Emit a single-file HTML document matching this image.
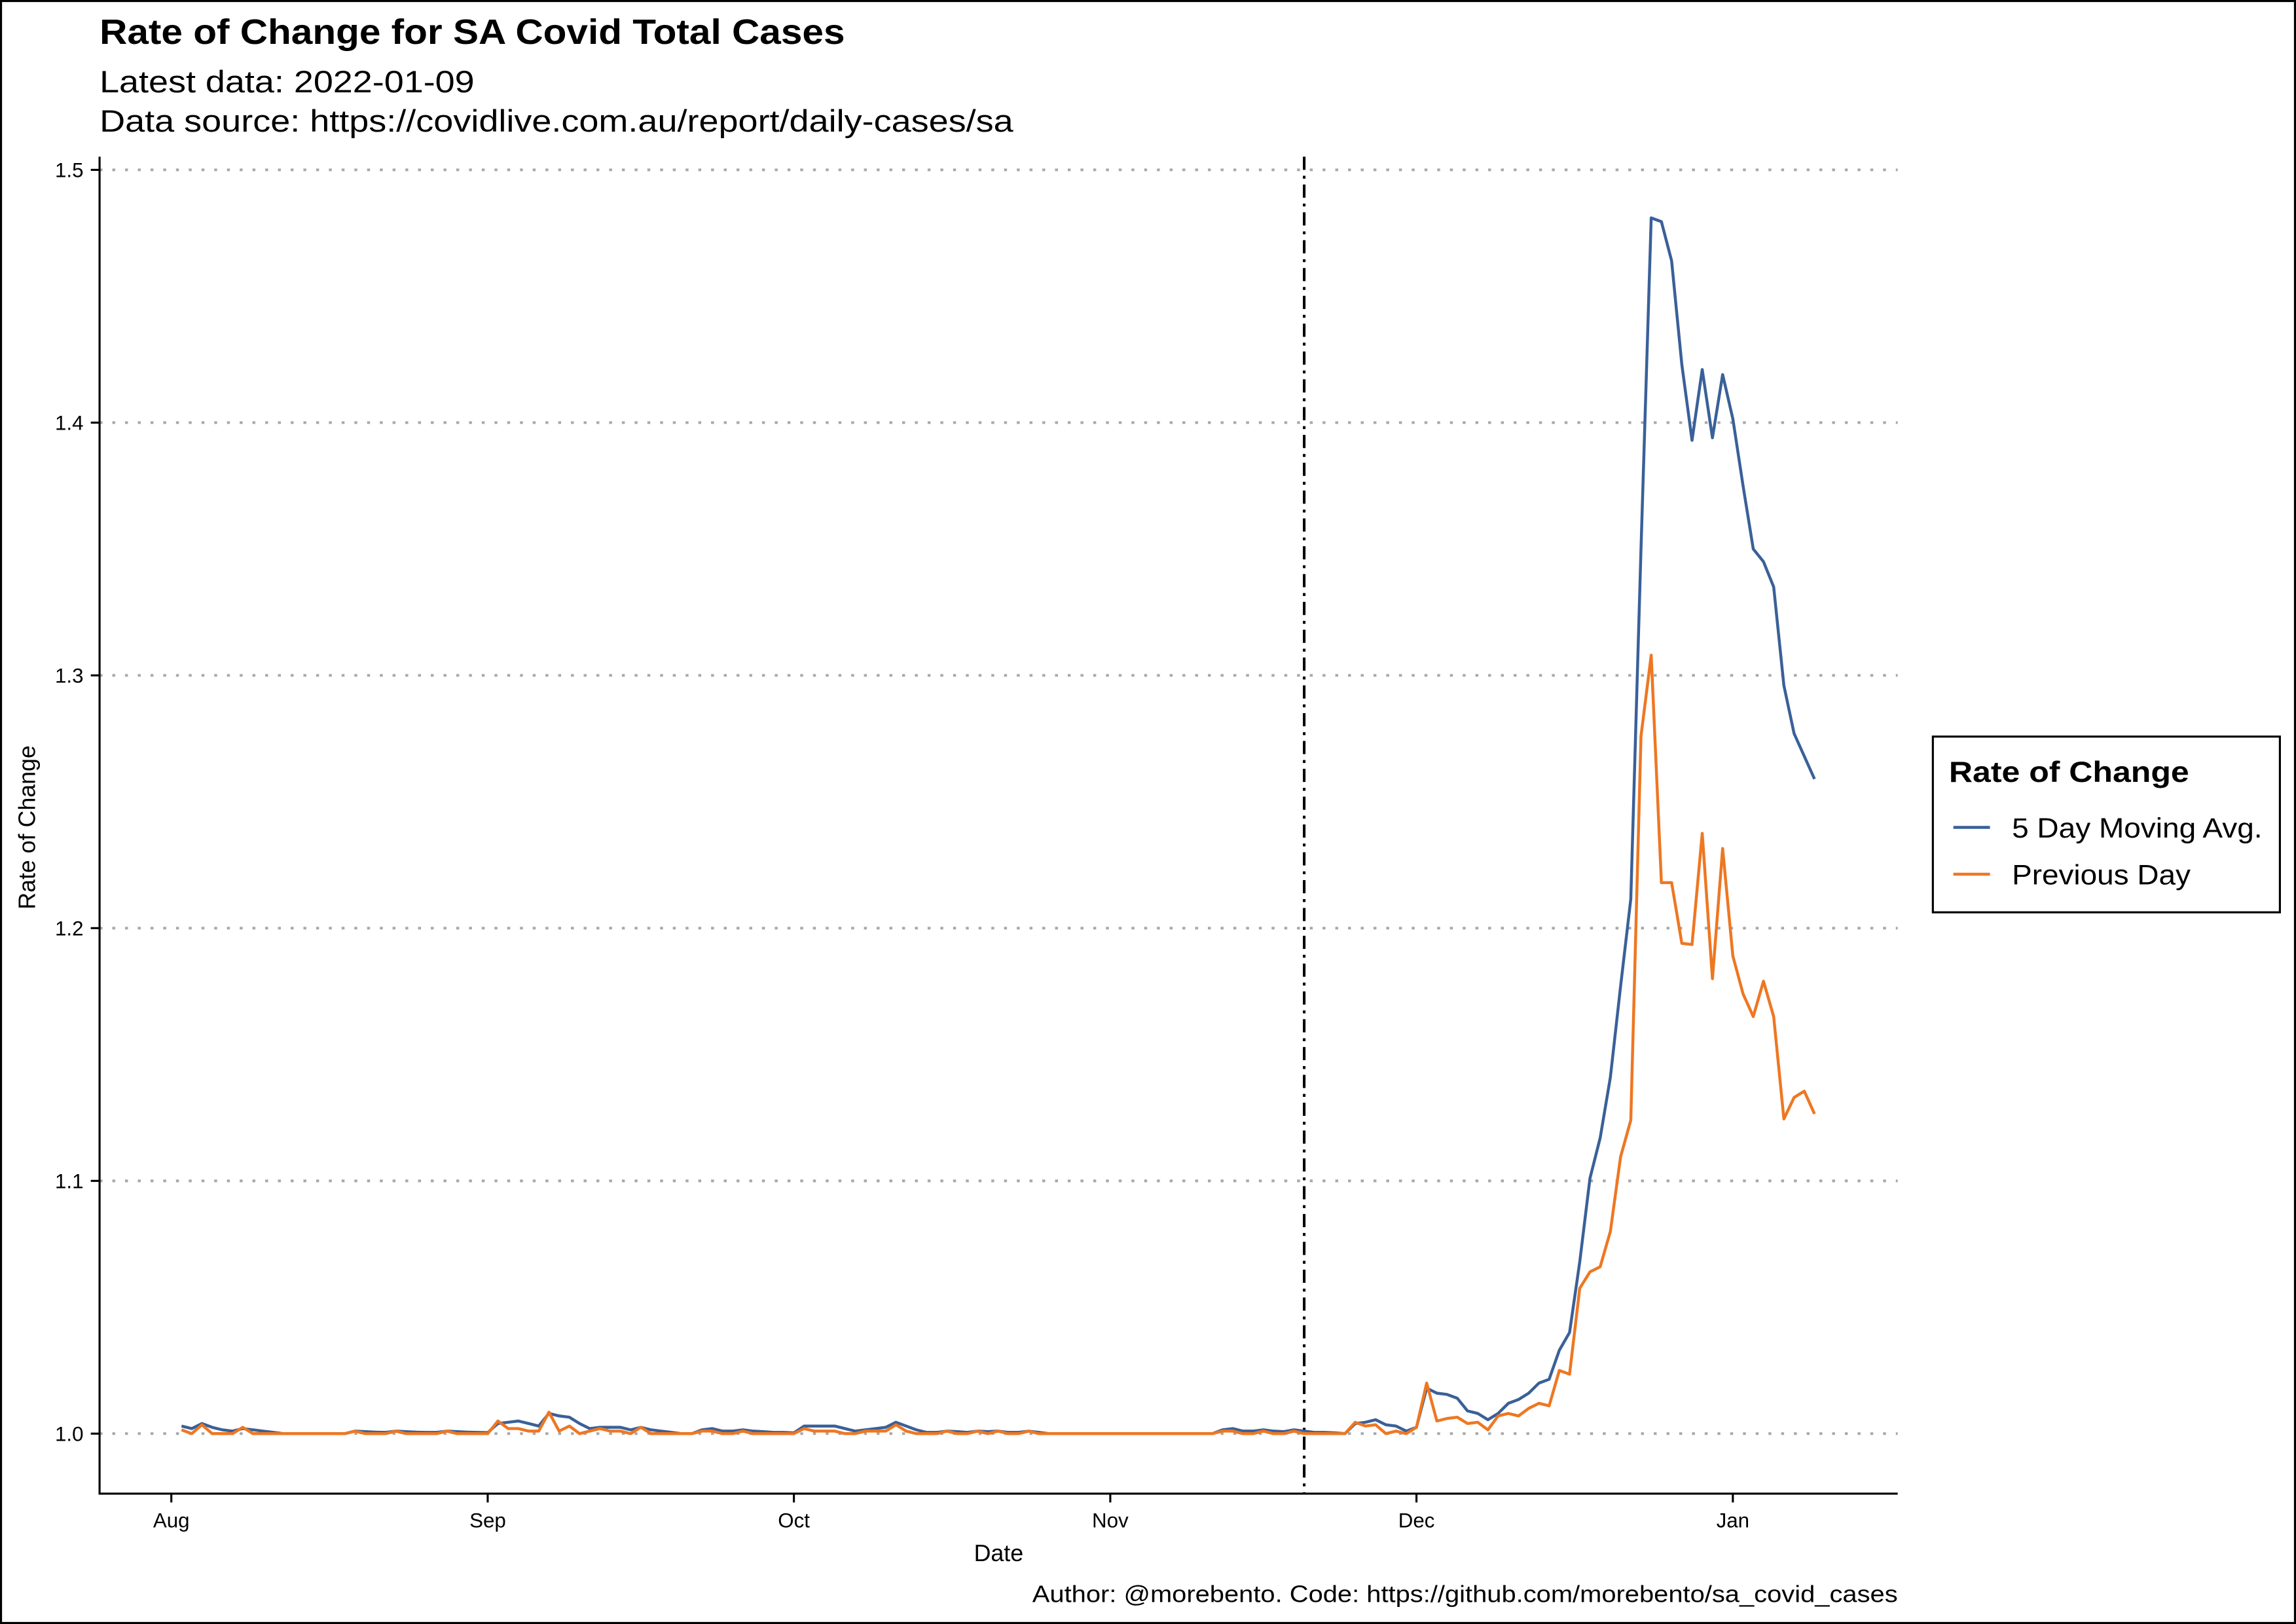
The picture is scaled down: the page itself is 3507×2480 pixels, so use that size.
<!DOCTYPE html>
<html><head><meta charset="utf-8"><style>
html,body{margin:0;padding:0;background:#fff}
svg{display:block;font-family:"Liberation Sans",Arial,sans-serif}
</style></head><body>
<svg id="chart" width="3507" height="2480" viewBox="0 0 1568 1109" preserveAspectRatio="none" xmlns="http://www.w3.org/2000/svg">
<rect x="0.7" y="0.7" width="1566.6" height="1107.6" fill="#fff" stroke="#000" stroke-width="1.4"/>
<text x="68" y="30" font-size="24" font-weight="bold" textLength="509" lengthAdjust="spacingAndGlyphs">Rate of Change for SA Covid Total Cases</text>
<text x="68" y="63" font-size="21" textLength="256" lengthAdjust="spacingAndGlyphs">Latest data: 2022-01-09</text>
<text x="68" y="90" font-size="21" textLength="624" lengthAdjust="spacingAndGlyphs">Data source: https://covidlive.com.au/report/daily-cases/sa</text>
<g id="grid"></g>
<g id="yaxis"></g>
<g id="xaxis"></g>
<g id="series"></g>
<line x1="68" y1="107" x2="68" y2="1020.5" stroke="#000" stroke-width="1.4"/>
<line x1="67.3" y1="1020" x2="1296" y2="1020" stroke="#000" stroke-width="1.4"/>
<text x="682" y="1066" font-size="16" text-anchor="middle">Date</text>
<text transform="translate(24,565) rotate(-90)" font-size="16" text-anchor="middle">Rate of Change</text>
<text x="705" y="1094" font-size="16" textLength="591" lengthAdjust="spacingAndGlyphs">Author: @morebento. Code: https://github.com/morebento/sa_covid_cases</text>
<g>
<rect x="1320" y="503" width="237" height="120" fill="#fff" stroke="#000" stroke-width="1.4"/>
<text x="1331" y="534" font-size="20" font-weight="bold" textLength="164" lengthAdjust="spacingAndGlyphs">Rate of Change</text>
<line x1="1334" y1="565" x2="1359" y2="565" stroke="#3A6098" stroke-width="2"/>
<text x="1374" y="572" font-size="19" textLength="171" lengthAdjust="spacingAndGlyphs">5 Day Moving Avg.</text>
<line x1="1334" y1="597" x2="1359" y2="597" stroke="#EE7722" stroke-width="2"/>
<text x="1374" y="604" font-size="19" textLength="122" lengthAdjust="spacingAndGlyphs">Previous Day</text>
</g>
</svg>
<script>
// day index 1 = 2021-08-02 ... 161 = 2022-01-09
const startDay = 1;
const yTicks = [1.0, 1.1, 1.2, 1.3, 1.4, 1.5];
const yTickLabels = ["1.0", "1.1", "1.2", "1.3", "1.4", "1.5"];
const xTickDays = [0, 31, 61, 92, 122, 153];
const xTickLabels = ["Aug", "Sep", "Oct", "Nov", "Dec", "Jan"];
const markerDay = 111;
const prevDay = [
1.0015,1.0,1.0035,1.0,1.0,1.0,1.0025,1.0,1.0,1.0,
1.0,1.0,1.0,1.0,1.0,1.0,1.0,1.001,1.0,1.0,
1.0,1.001,1.0,1.0,1.0,1.0,1.001,1.0,1.0,1.0,
1.0,1.005,1.002,1.002,1.001,1.001,1.0085,1.001,1.003,1.0,
1.001,1.002,1.001,1.001,1.0,1.0025,1.0,1.0,1.0,1.0,
1.0,1.001,1.001,1.0,1.0,1.001,1.0,1.0,1.0,1.0,
1.0,1.002,1.001,1.001,1.001,1.0,1.0,1.001,1.001,1.001,
1.0035,1.001,1.0,1.0,1.0,1.001,1.0,1.0,1.001,1.0,
1.001,1.0,1.0,1.001,1.0,1.0,1.0,1.0,1.0,1.0,
1.0,1.0,1.0,1.0,1.0,1.0,1.0,1.0,1.0,1.0,
1.0,1.0,1.001,1.001,1.0,1.0,1.001,1.0,1.0,1.001,
1.0,1.0,1.0,1.0,1.0,1.0045,1.003,1.0035,1.0,1.001,
1.0,1.0025,1.020,1.005,1.006,1.0065,1.004,1.0045,1.0015,1.007,
1.008,1.007,1.010,1.012,1.011,1.025,1.0235,1.0575,1.064,1.066,
1.080,1.1095,1.124,1.276,1.308,1.218,1.218,1.194,1.1935,1.2375,
1.180,1.2315,1.189,1.174,1.165,1.179,1.165,1.1245,1.133,1.1355,
1.1265];
const movingAvg = [
1.003,1.002,1.004,1.0025,1.0015,1.001,1.002,1.0015,1.001,1.0005,
1.0,1.0,1.0,1.0,1.0,1.0,1.0,1.001,1.0008,1.0006,
1.0005,1.001,1.0008,1.0006,1.0005,1.0005,1.001,1.0008,1.0006,1.0005,
1.0004,1.004,1.0045,1.005,1.004,1.003,1.008,1.007,1.0065,1.004,
1.002,1.0025,1.0025,1.0025,1.0015,1.0025,1.0015,1.001,1.0005,1.0,
1.0,1.0015,1.002,1.001,1.001,1.0015,1.001,1.0008,1.0005,1.0005,
1.0003,1.003,1.003,1.003,1.003,1.002,1.001,1.0015,1.002,1.0025,
1.0045,1.003,1.0015,1.0005,1.0005,1.001,1.0008,1.0005,1.001,1.0008,
1.001,1.0005,1.0005,1.001,1.0005,1.0,1.0,1.0,1.0,1.0,
1.0,1.0,1.0,1.0,1.0,1.0,1.0,1.0,1.0,1.0,
1.0,1.0,1.0015,1.002,1.001,1.001,1.0015,1.001,1.0008,1.0015,
1.001,1.0005,1.0005,1.0003,1.0,1.004,1.0045,1.0055,1.0035,1.003,
1.001,1.0025,1.018,1.016,1.0155,1.014,1.009,1.008,1.0055,1.008,
1.012,1.0135,1.016,1.020,1.0215,1.033,1.040,1.068,1.101,1.117,
1.141,1.177,1.2115,1.35,1.481,1.4795,1.464,1.423,1.393,1.421,
1.394,1.419,1.4015,1.375,1.350,1.345,1.335,1.296,1.277,1.268,
1.259];

const NS = "http://www.w3.org/2000/svg";
function xScale(d){ return 117 + d * 6.97; }
function yScale(v){ return 979 - (v - 1.0) * 1726; }
function mk(tag, attrs, parent){
  const e = document.createElementNS(NS, tag);
  for (const k in attrs) e.setAttribute(k, attrs[k]);
  parent.appendChild(e); return e;
}
const grid = document.getElementById("grid");
const yaxis = document.getElementById("yaxis");
const xaxis = document.getElementById("xaxis");
const series = document.getElementById("series");

yTicks.forEach((v, i) => {
  const y = yScale(v);
  const g = mk("line", {x1: 68, x2: 1296, y1: y, y2: y, stroke: "#a8a8a8", "stroke-width": 1.8, "stroke-dasharray": "2 6.7"}, grid);
  
  
  const t = mk("line", {x1: 62, x2: 68, y1: y, y2: y, stroke: "#000", "stroke-width": 1.4}, yaxis);
  
  
  const l = mk("text", {x: 57, y: y + 5, "font-size": 14, "text-anchor": "end"}, yaxis);
  l.textContent = yTickLabels[i];
  
  
});
xTickDays.forEach((d, i) => {
  const x = xScale(d);
  const t = mk("line", {x1: x, x2: x, y1: 1020, y2: 1026, stroke: "#000", "stroke-width": 1.4}, xaxis);
  
  
  const l = mk("text", {x: x, y: 1043, "font-size": 14, "text-anchor": "middle"}, xaxis);
  l.textContent = xTickLabels[i];
  
  
});
const mx = xScale(markerDay);
const vl = mk("line", {x1: mx, x2: mx, y1: 107, y2: 1020, stroke: "#000", "stroke-width": 1.8, "stroke-dasharray": "9 4 2 4"}, grid);



function pathFor(arr){
  return arr.map((v, i) => (i ? "L" : "M") + xScale(startDay + i).toFixed(2) + "," + yScale(v).toFixed(2)).join("");
}
const pa = mk("path", {d: pathFor(movingAvg), fill: "none", stroke: "#3A6098", "stroke-width": 2, "stroke-linejoin": "round"}, series);


const pp = mk("path", {d: pathFor(prevDay), fill: "none", stroke: "#EE7722", "stroke-width": 2, "stroke-linejoin": "round"}, series);


</script>
</body></html>
